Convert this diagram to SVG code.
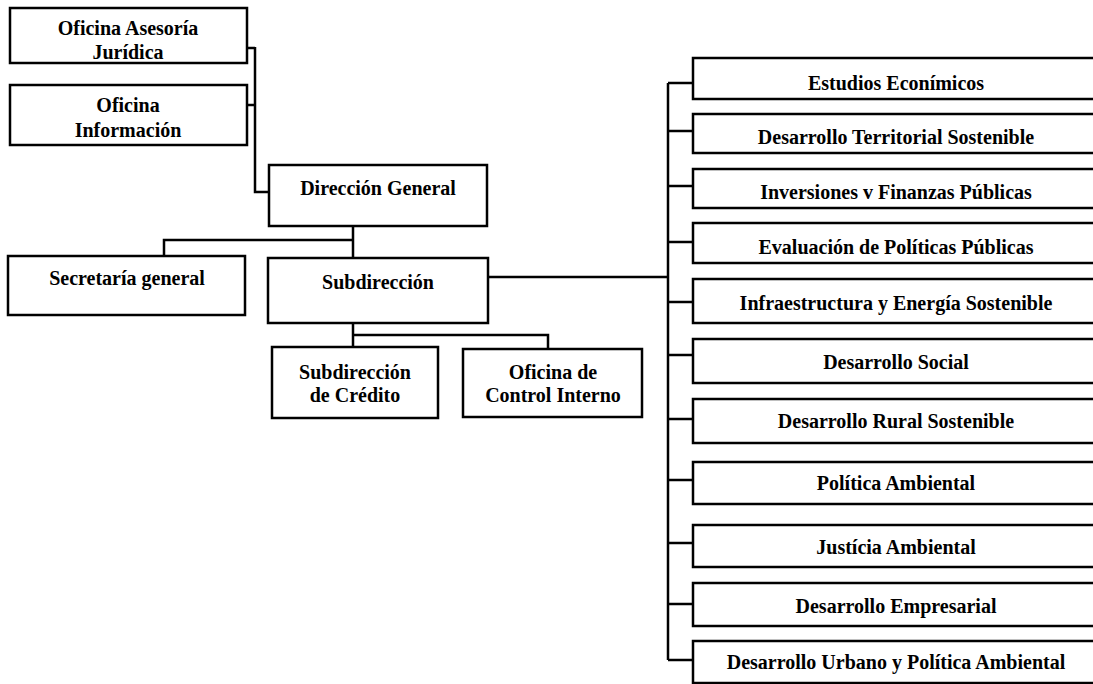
<svg xmlns="http://www.w3.org/2000/svg" width="1093" height="684" viewBox="0 0 1093 684">
<style>
.box{fill:#fff;stroke:#000;stroke-width:2.5}
.t{font-family:"Liberation Serif","Times New Roman",serif;font-size:20px;font-weight:bold;fill:#000;text-anchor:middle}
.c{fill:none;stroke:#000;stroke-width:2.5}
</style>
<rect width="1093" height="684" fill="#fff"/>
<g id="connectors">
<path class="c" d="M247 48H255M247 105H255M255 47V192H268"/>
<path class="c" d="M353 226V258M164 256V240H353"/>
<path class="c" d="M353 323V347M353 335H548V349"/>
<path class="c" d="M488 277H668"/>
<path class="c" d="M668 83V660M668 83H693M668 131H693M668 186H693M668 242H693M668 302H693M668 355H693M668 419H693M668 480H693M668 543H693M668 604H693M668 660H693"/>
</g>
<g id="n-asesoria"><rect class="box" x="10" y="8" width="237" height="55"/><text class="t" x="128" y="35">Oficina Asesoría</text><text class="t" x="128" y="59">Jurídica</text></g>
<g id="n-informacion"><rect class="box" x="10" y="85" width="237" height="60"/><text class="t" x="128" y="112">Oficina</text><text class="t" x="128" y="137">Información</text></g>
<g id="n-direccion"><rect class="box" x="269" y="165" width="218" height="61"/><text class="t" x="378" y="195">Dirección General</text></g>
<g id="n-secretaria"><rect class="box" x="8" y="256" width="237" height="59"/><text class="t" x="127" y="285">Secretaría general</text></g>
<g id="n-subdireccion"><rect class="box" x="268" y="258" width="220" height="65"/><text class="t" x="378" y="289">Subdirección</text></g>
<g id="n-credito"><rect class="box" x="272" y="347" width="166" height="71"/><text class="t" x="355" y="379">Subdirección</text><text class="t" x="355" y="402">de Crédito</text></g>
<g id="n-control"><rect class="box" x="463" y="349" width="179" height="68"/><text class="t" x="553" y="379">Oficina de</text><text class="t" x="553" y="402">Control Interno</text></g>
<g id="n-estudios"><rect class="box" x="693" y="58" width="420" height="41"/><text class="t" x="896" y="90">Estudios Econímicos</text></g>
<g id="n-territorial"><rect class="box" x="693" y="114" width="420" height="39"/><text class="t" x="896" y="144">Desarrollo Territorial Sostenible</text></g>
<g id="n-inversiones"><rect class="box" x="693" y="169" width="420" height="39"/><text class="t" x="896" y="199">Inversiones v Finanzas Públicas</text></g>
<g id="n-evaluacion"><rect class="box" x="693" y="223" width="420" height="40"/><text class="t" x="896" y="254">Evaluación de Políticas Públicas</text></g>
<g id="n-infraestructura"><rect class="box" x="693" y="279" width="420" height="44"/><text class="t" x="896" y="310">Infraestructura y Energía Sostenible</text></g>
<g id="n-social"><rect class="box" x="693" y="339" width="420" height="44"/><text class="t" x="896" y="369">Desarrollo Social</text></g>
<g id="n-rural"><rect class="box" x="693" y="399" width="420" height="44"/><text class="t" x="896" y="428">Desarrollo Rural Sostenible</text></g>
<g id="n-politica"><rect class="box" x="693" y="462" width="420" height="42"/><text class="t" x="896" y="490">Política Ambiental</text></g>
<g id="n-justicia"><rect class="box" x="693" y="525" width="420" height="42"/><text class="t" x="896" y="554">Justícia Ambiental</text></g>
<g id="n-empresarial"><rect class="box" x="693" y="583" width="420" height="43"/><text class="t" x="896" y="613">Desarrollo Empresarial</text></g>
<g id="n-urbano"><rect class="box" x="693" y="641" width="420" height="42"/><text class="t" x="896" y="669">Desarrollo Urbano y Política Ambiental</text></g>
</svg>
